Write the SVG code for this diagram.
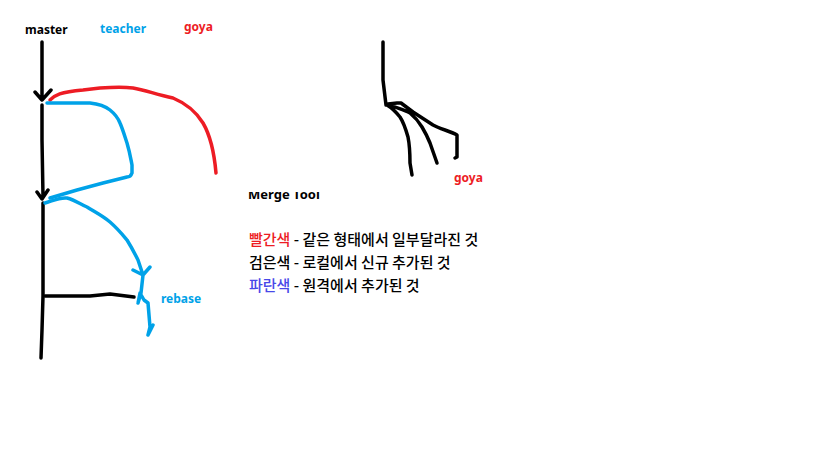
<svg xmlns="http://www.w3.org/2000/svg" width="825" height="450" viewBox="0 0 825 450">
<style>
.s{fill:none;stroke-width:3.5;stroke-linecap:round;stroke-linejoin:round}
.k{stroke:#000}
.r{stroke:#ed1c24}
.b{stroke:#00a2e8}
.lbl{font-family:"Noto Sans","Liberation Sans",sans-serif;font-weight:bold;font-size:12px}
.ko{font-family:"Noto Sans CJK KR","Noto Sans",sans-serif;font-size:15px;font-weight:500}
</style>
<rect width="825" height="450" fill="#fff"/>
<g id="labels">
<text class="lbl" x="25" y="34" fill="#000">master</text>
<text class="lbl" x="100" y="33" fill="#00a2e8">teacher</text>
<text class="lbl" x="184" y="31" fill="#ed1c24">goya</text>
<text class="lbl" x="454" y="182" fill="#ed1c24">goya</text>
<text class="lbl" x="161" y="303" fill="#00a2e8">rebase</text>
</g>
<g id="connectors">
<path class="s k" d="M42,42 L42,100 M35,92 L42,100 L51,90 M42,105 L42,140 L43,196 M37,192 L42,199 L48,190 M43,203 L43,296 L42,330 L41,358"/>
<path class="s k" d="M45,296 L90,296 L110,294 L134,297"/>
<path class="s r" d="M50,100 C55,95 60,92 83,90 L100,88 C115,87 125,87 133,88 C145,90 155,94 173,98 C185,103 195,110 203,123 C210,135 214,150 216,173"/>
<path class="s b" d="M47,103 L90,103 C100,104 105,106 110,110 C115,114 118,118 120,123 C123,130 125,137 127,143 C130,153 131,160 132,165 L132,173 C131,176 129,177 127,177 L103,183 L77,190 L50,198"/>
<path class="s b" d="M45,203 C52,201 60,197 67,198 C75,200 80,204 87,207 C95,212 103,216 110,222 C118,229 122,234 127,240 C132,248 135,254 138,260 L143,275 M133,270 L143,275 L150,267 M143,275 L141,293 L138,303 L140,293 L144,300 L148,303 L150,327 L148,335 M148,335 L153,325"/>
<path class="s k" d="M383,42 L383,80 L386,105 M387,105 C392,108 396,112 400,117 C404,123 406,130 408,137 C410,147 410,155 410,163 L412,175 M390,105 C397,108 404,110 410,113 C416,118 419,122 422,127 C425,132 428,138 430,143 L437,163 M388,104 L397,103 L401,103 C405,106 409,109 413,112 L433,125 C440,129 450,131 457,135 L457,157 L455,158"/>
</g>
<g id="legend">
<text x="248" y="199" style="font-family:'Noto Sans','Liberation Sans',sans-serif;font-size:13px;font-weight:bold" fill="#000">Merge Tool</text>
<rect x="240" y="180" width="100" height="12" fill="#fff"/>
<text class="ko" x="249" y="245"><tspan fill="#ed1c24">빨간색</tspan><tspan fill="#000"> - 같은 형태에서 일부달라진 것</tspan></text>
<text class="ko" x="249" y="268" fill="#000">검은색 - 로컬에서 신규 추가된 것</text>
<text class="ko" x="249" y="291"><tspan fill="#4848e8">파란색</tspan><tspan fill="#000"> - 원격에서 추가된 것</tspan></text>
</g>
</svg>
